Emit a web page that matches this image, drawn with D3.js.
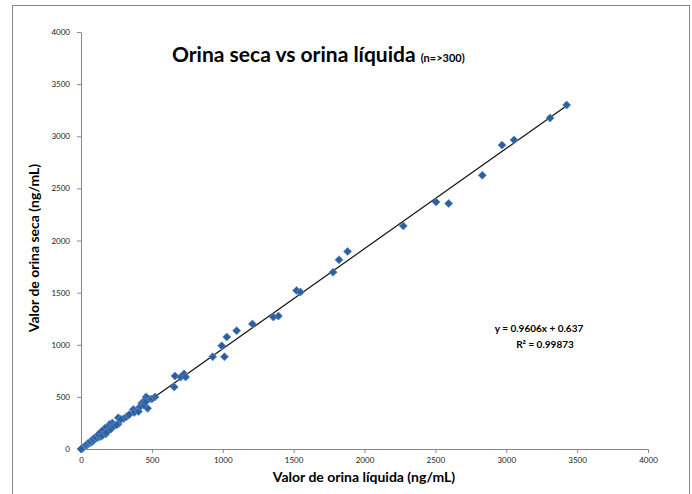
<!DOCTYPE html>
<meta charset="utf-8">
<style>
body { margin: 0; background: #fff; }
text { font-family: Lato, "Open Sans", sans-serif; }
</style>
<svg id="mysvg" width="692" height="494"></svg>
<script src="https://cdn.jsdelivr.net/npm/d3@7/dist/d3.min.js"></script>
<script>

// valores
var liquida = [3426,3309,3055,2970,2831,2594,2505,2274,1881,1820,1778,1521,1548,1357,1393,1209,1098,1028,993,1012,929,
	663,658,703,727,738,522,499,480,459,452,470,428,393,369,375,322,300,263,263,221,200,193,181,170,165,150,140,130,120,
	110,100,90,80,70,60,50,40,30,20,10,5,0,150,175,180,210,230,250,280,340,405,420,445,455];
var seca = [3300,3175,2965,2915,2625,2355,2370,2140,1895,1815,1695,1520,1505,1265,1275,1200,1135,1075,990,885,885,
	700,595,690,720,690,500,480,480,500,470,390,440,375,380,350,310,290,300,240,250,235,210,185,200,150,175,120,150,110,
	120,95,100,70,75,55,55,35,30,20,8,0,0,130,145,160,190,220,230,285,330,360,410,420,450];
var ticks = [0,500,1000,1500,2000,2500,3000,3500,4000];
var slope = 0.9606, intercept = 0.637, r2 = 0.99873;

var svg = d3.select("#mysvg");

var x = d3.scaleLinear().domain([0,4000]).range([81,648]);
var y = d3.scaleLinear().domain([0,4000]).range([449,32]);

// marco
svg.append("rect")
	.attr("x",12.5).attr("y",5.5)
	.attr("width",677).attr("height",500)
	.attr("fill","none").attr("stroke","#888").attr("stroke-width",1);

var xAxis = svg.append("g")
	.attr("transform","translate(0,449)")
	.call(d3.axisBottom(x).tickValues(ticks).tickFormat(d3.format("d")).tickSize(4).tickSizeOuter(0).tickPadding(4));
var yAxis = svg.append("g")
	.attr("transform","translate(81,0)")
	.call(d3.axisLeft(y).tickValues(ticks).tickFormat(d3.format("d")).tickSize(4).tickSizeOuter(0).tickPadding(7));

[xAxis,yAxis].forEach(function(g){
	g.select(".domain").attr("stroke","#888");
	g.selectAll(".tick line").attr("stroke","#888");
	g.selectAll(".tick text").attr("fill","#222").style("font-size","8px").style("font-family","Lato, sans-serif");
});

// linea de tendencia
var xmax = d3.max(liquida);
svg.append("line")
	.attr("x1",x(0)).attr("y1",y(intercept))
	.attr("x2",x(xmax)).attr("y2",y(slope*xmax+intercept))
	.attr("stroke","#111").attr("stroke-width",1.2);

svg.selectAll("path.pt")
	.data(d3.range(liquida.length))
	.enter().append("path")
	.attr("class","pt")
	.attr("d","M0,-4L4,0L0,4L-4,0Z")
	.attr("transform",function(i){ return "translate("+x(liquida[i])+","+y(seca[i])+")"; })
	.attr("fill","#2D5F9E")
	.attr("stroke","#5B8BCB")
	.attr("stroke-width",1)
	.attr("stroke-opacity",0.8);

// titulo
var title = svg.append("text")
	.attr("x",172).attr("y",62)
	.attr("font-weight","bold").attr("fill","#000");
title.append("tspan").style("font-size","21px").text("Orina seca vs orina líquida");
title.append("tspan").attr("dx",5).style("font-size","11px").text("(n=>300)");

svg.append("text")
	.attr("x",364).attr("y",482)
	.attr("text-anchor","middle").attr("font-weight","bold")
	.style("font-size","14px").text("Valor de orina líquida (ng/mL)");

svg.append("text")
	.attr("transform","translate(39,248) rotate(-90)")
	.attr("text-anchor","middle").attr("font-weight","bold")
	.style("font-size","14px").text("Valor de orina seca (ng/mL)");

svg.append("text")
	.attr("x",539).attr("y",332)
	.attr("text-anchor","middle").attr("font-weight","bold")
	.style("font-size","10px").text("y = " + slope + "x + " + intercept);
svg.append("text")
	.attr("x",545).attr("y",348)
	.attr("text-anchor","middle").attr("font-weight","bold")
	.style("font-size","10px").text("R² = " + r2);

</script>
